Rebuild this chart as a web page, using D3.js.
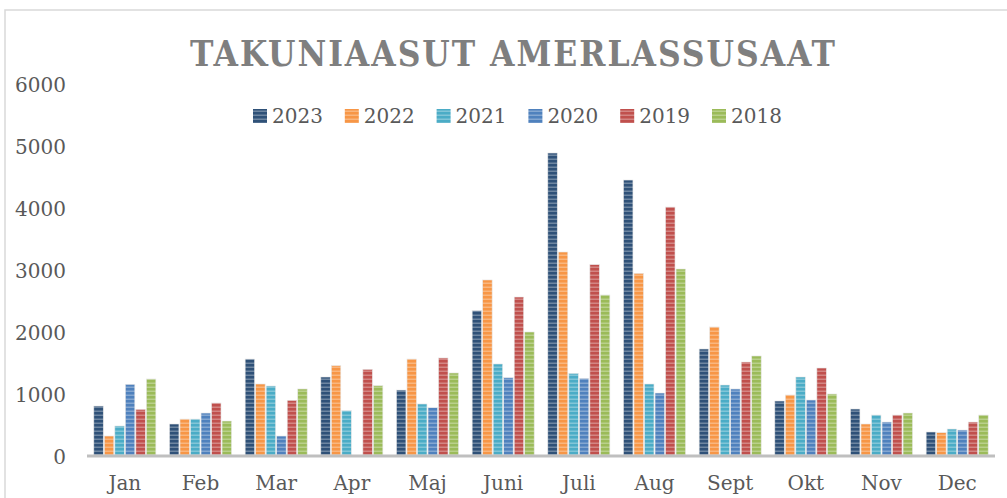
<!DOCTYPE html>
<html>
<head>
<meta charset="utf-8">
<script src="https://cdn.jsdelivr.net/npm/d3@7/dist/d3.min.js"></script>
<style>
  html, body { margin: 0; padding: 0; background: #fff; }
  svg { display: block; }
</style>
</head>
<body>
<svg id="chart" width="1007" height="498"></svg>
<script>
const months = ["Jan","Feb","Mar","Apr","Maj","Juni","Juli","Aug","Sept","Okt","Nov","Dec"];
const seriesNames = ["2023","2022","2021","2020","2019","2018"];
const v2023 = [790, 500, 1548, 1258, 1048, 2328, 4871, 4435, 1710, 871, 742, 371];
const v2022 = [306, 580, 1145, 1441, 1548, 2823, 3274, 2930, 2065, 968, 500, 360];
const v2021 = [468, 580, 1113, 715, 823, 1468, 1317, 1145, 1129, 1258, 645, 419];
const v2020 = [1140, 677, 306, 0, 763, 1247, 1237, 1000, 1065, 887, 532, 403];
const v2019 = [737, 839, 882, 1382, 1565, 2548, 3070, 4000, 1500, 1403, 645, 532];
const v2018 = [1226, 548, 1065, 1118, 1323, 1984, 2581, 3000, 1597, 984, 677, 645];
const yTicks = [0, 1000, 2000, 3000, 4000, 5000, 6000];
const seriesValues = [v2023, v2022, v2021, v2020, v2019, v2018];
const colors = ["#2f5178", "#f79646", "#4bacc6", "#4f81bd", "#c0504d", "#9bbb59"];
const titleText = "TAKUNIAASUT AMERLASSUSAAT";

const svg = d3.select("#chart");

// chart border
svg.append("rect").attr("x", 5).attr("y", 10).attr("width", 1010).attr("height", 500)
  .attr("fill", "none").attr("stroke", "#d9d9d9").attr("stroke-width", 1.5);

// stripe patterns
const defs = svg.append("defs");
colors.forEach((c, i) => {
  const p = defs.append("pattern").attr("id", "pat" + i)
    .attr("patternUnits", "userSpaceOnUse").attr("width", 20).attr("height", 4);
  p.append("rect").attr("width", 20).attr("height", 4).attr("fill", c);
  p.append("rect").attr("y", 2.5).attr("width", 20).attr("height", 1.5)
    .attr("fill", "#ffffff").attr("opacity", 0.3);
});

const x0 = d3.scaleBand().domain(months).range([87, 995]).paddingInner(0.18).paddingOuter(0.09);
const x1 = d3.scaleBand().domain(seriesNames).range([0, x0.bandwidth()]).paddingInner(0.1);
const y = d3.scaleLinear().domain([0, 6000]).range([455, 83]);

// bars
const groups = svg.append("g").selectAll("g").data(months).join("g")
  .attr("transform", d => `translate(${x0(d)},0)`);
groups.selectAll("rect")
  .data((m, mi) => seriesNames.map((s, si) => ({ s, si, v: seriesValues[si][mi] })))
  .join("rect")
  .attr("x", d => x1(d.s))
  .attr("y", d => y(d.v))
  .attr("width", x1.bandwidth())
  .attr("height", d => y(0) - y(d.v))
  .attr("fill", d => `url(#pat${d.si})`)
  .attr("stroke", "#e6e6e6").attr("stroke-width", 0.6)
  .attr("display", d => d.v > 0 ? null : "none");

// x axis baseline
svg.append("line").attr("x1", 87).attr("x2", 995).attr("y1", y(0) + 1).attr("y2", y(0) + 1)
  .attr("stroke", "#bfbfbf").attr("stroke-width", 3);

// x labels
const xAxis = d3.axisBottom(x0).tickSize(0).tickPadding(0);
const xg = svg.append("g").attr("transform", "translate(0,476)").call(xAxis);
xg.select(".domain").remove();
xg.selectAll("text").attr("font-family", "DejaVu Serif").attr("font-size", 20)
  .attr("fill", "#595959").attr("dy", "0.72em");

// y labels
const yAxis = d3.axisLeft(y).tickValues(yTicks).tickSize(0).tickPadding(0).tickFormat(d3.format("d"));
const yg = svg.append("g").attr("transform", "translate(66,2)").call(yAxis);
yg.select(".domain").remove();
yg.selectAll("text").attr("font-family", "DejaVu Serif").attr("font-size", 20)
  .attr("fill", "#595959");

// title
svg.append("text").attr("x", 190).attr("y", 66)
  .attr("font-family", "DejaVu Serif Condensed, DejaVu Serif").attr("font-weight", "bold")
  .attr("font-size", 35).attr("fill", "#7f7f7f")
  .attr("textLength", 645).attr("lengthAdjust", "spacing")
  .text(titleText);

// legend
const legend = svg.append("g");
seriesNames.forEach((s, i) => {
  const lx = 253 + i * 91.8;
  legend.append("rect").attr("x", lx).attr("y", 109).attr("width", 14).attr("height", 14)
    .attr("fill", `url(#pat${i})`);
  legend.append("text").attr("x", lx + 19).attr("y", 123)
    .attr("font-family", "DejaVu Serif").attr("font-size", 20).attr("fill", "#595959")
    .text(s);
});
</script>
</body>
</html>
